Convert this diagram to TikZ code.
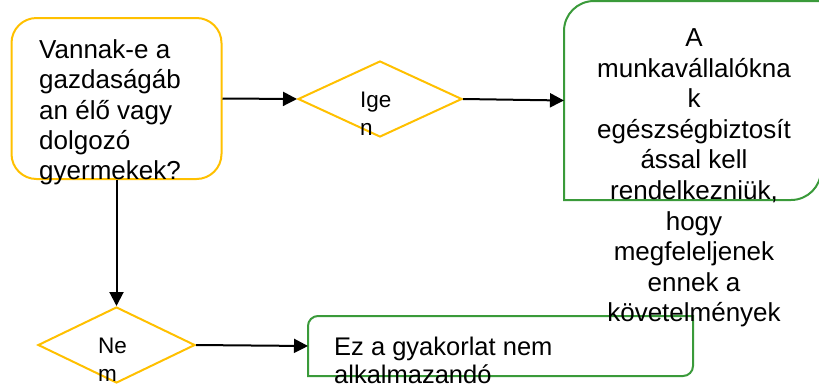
\documentclass[tikz,border=0pt]{standalone}
\usepackage{fontspec}
\setmainfont{Liberation Sans}
\usetikzlibrary{shapes.geometric,arrows.meta}
\definecolor{gold}{HTML}{FFC000}
\definecolor{grn}{HTML}{3A9A3A}
\begin{document}
\begin{tikzpicture}[x=1pt,y=-1pt,
  ybox/.style={draw=gold,line width=2pt,rounded corners=25pt,inner sep=0pt,rectangle},
  ydia/.style={draw=gold,line width=2pt,diamond,inner sep=0pt},
  gframe/.style={draw=grn,line width=2pt},
  ghost/.style={inner sep=0pt,outer sep=0pt,rectangle},
  conn/.style={draw=black,line width=2pt,-{Triangle[length=14pt,width=14pt]}},
  txt/.style={inner sep=0pt,anchor=base west},
  ctxt/.style={inner sep=0pt,anchor=base}
]
\useasboundingbox (0,0) rectangle (819,389);
\clip (0,0) rectangle (819,389);
% shapes
\node[ybox,minimum width=210pt,minimum height=161pt] (q) at (116.5,98.5) {};
\node[ydia,minimum width=164pt,minimum height=76pt] (d1) at (380,99) {};
\node[ydia,minimum width=157pt,minimum height=76pt] (d2) at (116.5,345) {};
\node[ghost,minimum width=257pt,minimum height=199pt] (r) at (692.5,100.5) {};
\node[ghost,minimum width=385pt,minimum height=60pt] (b) at (500.5,346) {};
\draw[gframe] (564,200) -- (564,31) .. controls (564,14.4) and (577.4,1) .. (594,1) -- (821,1) -- (821,170) .. controls (821,186.6) and (807.6,200) .. (791,200) -- cycle;
\draw[gframe] (308,376) -- (308,326) .. controls (308,320.5) and (312.5,316) .. (318,316) -- (693,316) -- (693,366) .. controls (693,371.5) and (688.5,376) .. (683,376) -- cycle;
% connectors
\draw[conn] (q.east) -- (d1.west);
\draw[conn] (d1.east) -- (r.west);
\draw[conn] (q.south) -- (d2.north);
\draw[conn] (d2.east) -- (b.west);
% texts
\node[txt] (t1) at (39,58.3) {\parbox[t]{200pt}{\raggedright\fontsize{26}{30.4}\selectfont Vannak-e a\\gazdaságáb\\an élő vagy\\dolgozó\\gyermekek?}};
\node[ctxt] (t2) at (694,46.5) {\parbox[t]{250pt}{\centering\fontsize{26}{30.6}\selectfont A\\munkavállalókna\\k\\egészségbiztosít\\ással kell\\rendelkezniük,\\hogy\\megfeleljenek\\ennek a\\követelmények}};
\node[txt] (t3) at (360,107) {\parbox[t]{60pt}{\raggedright\fontsize{22.5}{28.5}\selectfont Ige\\n}};
\node[txt] (t4) at (98,353) {\parbox[t]{60pt}{\raggedright\fontsize{22.5}{28}\selectfont Ne\\m}};
\node[txt] (t5) at (334,355) {\parbox[t]{350pt}{\raggedright\fontsize{25.5}{28.3}\selectfont Ez a gyakorlat nem\\alkalmazandó}};
\end{tikzpicture}
\end{document}
